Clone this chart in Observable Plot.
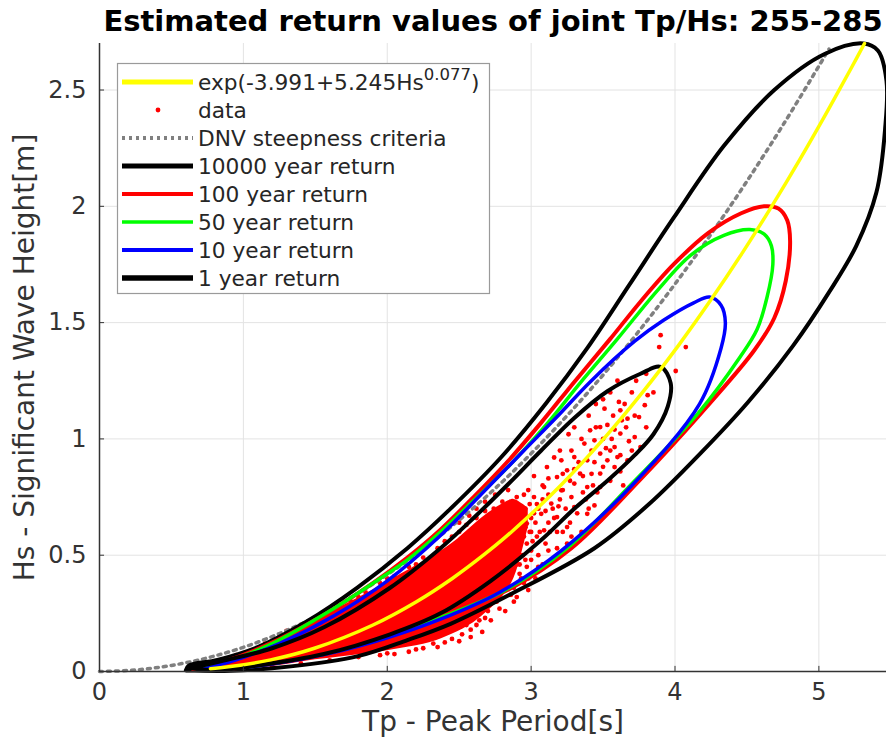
<!DOCTYPE html>
<html>
<head>
<meta charset="utf-8">
<script src="https://cdn.jsdelivr.net/npm/d3@7"></script>
<script src="https://cdn.jsdelivr.net/npm/@observablehq/plot@0.6"></script>
<style>
  html, body { margin: 0; padding: 0; background: white; }
  #wrap { position: relative; width: 886px; height: 748px; overflow: hidden; font-family: "DejaVu Sans", sans-serif; }
  #overlay { position: absolute; left: 0; top: 0; pointer-events: none; }
</style>
</head>
<body>
<div id="wrap"></div>
<script>
// ---------- data ----------
const titleText = "Estimated return values of joint Tp/Hs: 255-285";
const xLabel = "Tp - Peak Period[s]";
const yLabel = "Hs - Significant Wave Height[m]";
const xTicks = [0, 1, 2, 3, 4, 5];
const yTicks = [0, 0.5, 1, 1.5, 2, 2.5];

// fitted curve Tp = exp(-3.991+5.245 Hs^0.077)
const fitHs = [0.012, 0.02, 0.05, 0.1, 0.2, 0.3, 0.4, 0.5, 0.6, 0.8, 1.0, 1.2, 1.4, 1.6, 1.8, 2.0, 2.2, 2.4, 2.6, 2.7];
const fitTp = [0.771, 0.896, 1.189, 1.494, 1.901, 2.203, 2.452, 2.668, 2.863, 3.205, 3.504, 3.774, 4.022, 4.252, 4.468, 4.672, 4.866, 5.051, 5.230, 5.317];

// DNV steepness criteria
const dnvTp = [0, 0.25, 0.5, 0.75, 1, 1.25, 1.5, 1.75, 2, 2.25, 2.5, 2.75, 3, 3.25, 3.5, 3.75, 4, 4.25, 4.5, 4.75, 5, 5.07];
const dnvHs = [0, 0.0065, 0.026, 0.0586, 0.104, 0.163, 0.234, 0.319, 0.416, 0.527, 0.651, 0.787, 0.937, 1.100, 1.275, 1.464, 1.666, 1.880, 2.108, 2.349, 2.603, 2.676];

// return-period contours
const c10000Tp = [0.60, 0.62, 0.82, 1.10, 1.44, 1.79, 2.14, 2.44, 2.79, 3.10, 3.39, 3.68, 3.99, 4.34, 4.69, 5.04, 5.31, 5.41, 5.47, 5.46, 5.40, 5.26, 5.07, 4.82, 4.51, 4.18, 3.82, 3.44, 2.85, 2.44, 2.14, 1.79, 1.33, 0.91, 0.60];
const c10000Hs = [0.005, 0.025, 0.05, 0.105, 0.215, 0.36, 0.53, 0.70, 0.92, 1.15, 1.39, 1.66, 1.95, 2.26, 2.50, 2.655, 2.70, 2.67, 2.54, 2.33, 2.06, 1.83, 1.63, 1.40, 1.16, 0.94, 0.72, 0.53, 0.33, 0.205, 0.135, 0.065, 0.022, 0.003, 0.005];

const c100Tp = [0.65, 0.85, 1.15, 1.55, 1.90, 2.14, 2.37, 2.60, 2.84, 3.07, 3.30, 3.55, 3.76, 3.99, 4.23, 4.46, 4.62, 4.72, 4.78, 4.80, 4.77, 4.69, 4.55, 4.18, 3.75, 3.28, 2.85, 2.37, 2.00, 1.60, 1.20, 0.90, 0.65];
const c100Hs = [0.01, 0.04, 0.11, 0.24, 0.38, 0.49, 0.61, 0.75, 0.905, 1.07, 1.245, 1.43, 1.59, 1.75, 1.885, 1.97, 2.0, 1.99, 1.94, 1.85, 1.68, 1.52, 1.38, 1.11, 0.82, 0.53, 0.355, 0.235, 0.15, 0.08, 0.035, 0.012, 0.01];

const c50Tp = [0.68, 0.90, 1.20, 1.60, 1.95, 2.14, 2.37, 2.60, 2.84, 3.11, 3.34, 3.60, 3.88, 4.11, 4.34, 4.52, 4.62, 4.67, 4.68, 4.64, 4.57, 4.45, 4.16, 3.72, 3.25, 2.82, 2.37, 2.00, 1.60, 1.20, 0.90, 0.68];
const c50Hs = [0.01, 0.045, 0.12, 0.26, 0.40, 0.48, 0.60, 0.735, 0.88, 1.065, 1.24, 1.43, 1.64, 1.79, 1.875, 1.90, 1.88, 1.83, 1.75, 1.61, 1.47, 1.35, 1.11, 0.82, 0.53, 0.35, 0.232, 0.15, 0.08, 0.034, 0.012, 0.01];

const c10Tp = [0.72, 0.95, 1.25, 1.63, 2.00, 2.37, 2.65, 2.95, 3.18, 3.41, 3.72, 3.92, 4.13, 4.24, 4.32, 4.35, 4.32, 4.17, 3.70, 3.21, 2.78, 2.37, 2.00, 1.60, 1.20, 0.90, 0.72];
const c10Hs = [0.01, 0.05, 0.12, 0.24, 0.39, 0.585, 0.76, 0.95, 1.095, 1.245, 1.42, 1.51, 1.585, 1.61, 1.575, 1.50, 1.39, 1.15, 0.80, 0.52, 0.34, 0.225, 0.145, 0.078, 0.032, 0.012, 0.01];

const c1Tp = [0.63, 0.85, 1.20, 1.56, 2.02, 2.37, 2.60, 2.84, 3.07, 3.30, 3.53, 3.76, 3.90, 3.97, 3.95, 3.85, 3.72, 3.53, 3.30, 3.07, 2.72, 2.37, 2.02, 1.56, 1.10, 0.80, 0.63];
const c1Hs = [0.015, 0.045, 0.10, 0.19, 0.36, 0.53, 0.66, 0.805, 0.95, 1.09, 1.205, 1.28, 1.31, 1.24, 1.14, 1.02, 0.93, 0.82, 0.70, 0.565, 0.39, 0.25, 0.16, 0.075, 0.026, 0.006, 0.015];

// dense core of the data cloud
const coreTp = [0.70, 0.90, 1.10, 1.30, 1.50, 1.70, 1.90, 2.10, 2.30, 2.45, 2.60, 2.70, 2.80, 2.88, 2.94, 2.98];
const coreLo = [0.0, 0.005, 0.015, 0.03, 0.05, 0.065, 0.08, 0.10, 0.125, 0.16, 0.21, 0.26, 0.32, 0.40, 0.52, 0.62];
const coreHi = [0.025, 0.06, 0.105, 0.16, 0.22, 0.285, 0.35, 0.42, 0.49, 0.55, 0.63, 0.68, 0.72, 0.74, 0.72, 0.70];

// individual data points [Tp, Hs]
const dataPoints = [
  [3.90,1.446],[3.89,1.395],[4.075,1.395],[4.005,1.292],[3.81,1.188],[3.61,1.159],[3.51,1.13],[3.62,1.123],
  [3.72,1.10],[3.79,1.145],[3.75,1.094],[3.67,1.087],[3.62,1.023],[3.72,1.008],[3.76,0.965],[3.58,0.965],
  [3.48,1.051],[3.41,1.037],[3.44,0.994],[3.37,0.98],[3.48,0.937],[3.53,0.908],[3.60,0.922],[3.67,0.908],
  [3.39,0.908],[3.30,0.922],[3.21,0.908],[3.11,0.879],[3.25,0.865],[3.34,0.851],[3.48,0.851],[3.58,0.879],
  [3.18,0.836],[3.30,0.808],[3.39,0.793],[3.48,0.793],[3.09,0.793],[3.21,0.779],[3.28,0.75],[3.02,0.75],
  [3.14,0.722],[3.30,0.707],[3.44,0.714],[2.93,0.707],[3.07,0.678],[3.18,0.664],[2.97,0.636],[3.09,0.607],
  [3.25,0.621],[3.39,0.678],[3.64,0.80],
  [2.55,0.63],[2.62,0.66],[2.68,0.69],[2.74,0.70],[2.80,0.73],[2.86,0.69],[2.90,0.75],[2.84,0.64],
  [2.92,0.62],[2.88,0.56],[2.95,0.58],[3.00,0.66],[3.04,0.72],[2.98,0.78],[3.02,0.84],[3.08,0.80],
  [3.12,0.76],[3.06,0.60],[3.12,0.64],[2.94,0.50],[2.90,0.46],[2.85,0.40],[2.80,0.35],[2.76,0.30],
  [2.70,0.26],[2.64,0.22],[2.58,0.18],[2.52,0.16],[2.58,0.148],[2.45,0.14],[2.40,0.125],[2.62,0.20],
  [2.66,0.17],[2.50,0.13],[2.35,0.105],[2.25,0.10],[2.15,0.085],[2.05,0.075],[1.95,0.07],[2.72,0.22],
  [2.85,0.50],[3.00,0.52],[2.97,0.45],[3.15,0.70],[3.20,0.74],[3.22,0.85],[3.16,0.92],[3.28,0.95],
  [3.35,1.00],[3.30,1.05],[3.40,1.10],[3.45,1.15],[3.55,1.20],[3.60,1.25],[3.70,1.20],[3.66,1.05],
  [3.56,1.00],[3.50,0.88],[3.42,0.85],[3.38,0.74],[3.46,0.77],[3.55,0.82],[3.62,0.86],[3.70,0.95],
  [3.80,1.05],[3.85,1.20],[3.80,1.28],[3.35,0.60],[3.25,0.55],[3.18,0.60],[2.50,0.60],[2.45,0.58],
  [2.40,0.56],[2.35,0.53],[2.25,0.49],[2.15,0.45],[2.05,0.41],[1.95,0.38],[1.85,0.34],[1.75,0.30],
  [1.65,0.26],[1.55,0.24],[1.45,0.21],[1.35,0.18],[1.25,0.15],[1.15,0.12],[2.78,0.58],[2.74,0.52],
  [2.70,0.46],[2.66,0.40],[2.88,0.30],[2.82,0.26],[2.95,0.38],[3.05,0.45],
  [2.72,0.38],[2.76,0.44],[2.80,0.40],[2.83,0.46],[2.87,0.52],[2.90,0.58],[2.93,0.66],[2.96,0.70],
  [2.99,0.60],[3.01,0.56],[3.03,0.64],[3.05,0.70],[3.08,0.74],[3.10,0.69],[3.13,0.60],[3.16,0.66],
  [3.19,0.71],[3.22,0.78],[3.24,0.70],[3.27,0.82],[3.30,0.87],[3.33,0.90],[3.36,0.84],[3.10,0.55],
  [3.05,0.50],[2.92,0.42],[2.88,0.36],[2.98,0.40],[3.12,0.83],[3.20,0.95],[3.26,1.02],[3.45,1.05],
  [3.50,1.00],[3.55,0.95],[3.42,0.95],[3.62,0.93],[3.68,0.99],[3.50,1.17],[3.57,1.10],[3.65,1.15],
  [3.73,1.25],[1.30,0.175],[1.40,0.20],[1.60,0.26],[1.80,0.32],[2.00,0.40],[2.20,0.46],[2.35,0.50],
  [1.20,0.02],[1.40,0.035],[1.60,0.048],[1.80,0.062],[2.00,0.078],[2.20,0.095],[2.32,0.12],[2.55,0.20],
  [2.68,0.23],[2.78,0.27],[2.86,0.33],[1.05,0.09],[0.95,0.07],
  [2.96,0.62],[3.00,0.48],[2.93,0.40],[2.98,0.35],[3.03,0.40],[2.90,0.32],[3.08,0.46],[3.12,0.52],
  [3.15,0.48],[3.18,0.53],[3.22,0.60],[3.27,0.64],[3.32,0.68],[3.28,0.58],[3.40,0.70],[3.36,0.77],
  [3.43,0.80],[3.44,0.90],[3.52,0.96],[3.58,1.04],[3.63,1.08],[3.53,1.06],[2.62,0.70],[2.68,0.73],
  [2.75,0.76],[2.84,0.78],[2.57,0.67],[2.50,0.64],
  [2.97,0.55],[3.00,0.60],[3.02,0.68],[2.99,0.72],[2.95,0.76],[3.04,0.58],[2.96,0.48],[2.92,0.46],[2.90,0.52]
];

// legend entries
const legendLabels = ["data", "DNV steepness criteria", "10000 year return", "100 year return", "50 year return", "10 year return", "1 year return"];

// ---------- build tables ----------
const toRows = (tp, hs) => tp.map((t, i) => ({tp: t, hs: hs[i]}));
const fitRows = toRows(fitTp, fitHs);
const dnvRows = toRows(dnvTp, dnvHs);
const coreRows = coreTp.map((t, i) => ({tp: t, lo: coreLo[i], hi: coreHi[i]}));
const pointRows = dataPoints.map(([tp, hs]) => ({tp, hs}));
const contours = [
  {rows: toRows(c10000Tp, c10000Hs), stroke: "#000000", w: 4},
  {rows: toRows(c100Tp, c100Hs), stroke: "#ff0000", w: 4},
  {rows: toRows(c50Tp, c50Hs), stroke: "#00ff00", w: 3.5},
  {rows: toRows(c10Tp, c10Hs), stroke: "#0000ff", w: 3.5},
  {rows: toRows(c1Tp, c1Hs), stroke: "#000000", w: 4}
];

const axisColor = "#333333";
const chart = Plot.plot({
  width: 886,
  height: 748,
  marginLeft: 99,
  marginRight: 0,
  marginTop: 43,
  marginBottom: 77,
  style: {fontFamily: "DejaVu Sans", background: "white", overflow: "visible"},
  x: {domain: [0, 5.47]},
  y: {domain: [0, 2.7]},
  marks: [
    Plot.gridX(xTicks, {stroke: "#e3e3e3", strokeOpacity: 1, strokeWidth: 1}),
    Plot.gridY(yTicks, {stroke: "#e3e3e3", strokeOpacity: 1, strokeWidth: 1}),
    Plot.areaY(coreRows, {x: "tp", y1: "lo", y2: "hi", fill: "#ff0000", curve: "catmull-rom"}),
    Plot.dot(pointRows, {x: "tp", y: "hs", r: 2.4, fill: "#ff0000", stroke: null}),
    Plot.line(dnvRows, {x: "tp", y: "hs", stroke: "#808080", strokeWidth: 3.5, strokeDasharray: "3 5", curve: "catmull-rom"}),
    ...contours.map(c => Plot.line(c.rows, {x: "tp", y: "hs", stroke: c.stroke, strokeWidth: c.w, curve: "catmull-rom", strokeLinejoin: "round"})),
    Plot.line(fitRows, {x: "tp", y: "hs", stroke: "#ffff00", strokeWidth: 3.5, curve: "catmull-rom"}),
    Plot.ruleX([0], {stroke: axisColor, strokeWidth: 1.5}),
    Plot.ruleY([0], {stroke: axisColor, strokeWidth: 1.5}),
    Plot.ruleX(xTicks, {x: d => d, y1: 0, y2: 0.022, stroke: axisColor}),
    Plot.ruleY(yTicks, {y: d => d, x1: 0, x2: 0.035, stroke: axisColor}),
    Plot.axisX(xTicks, {tickSize: 0, tickPadding: 11, fontSize: 24, fill: axisColor, tickFormat: d => String(d), label: null}),
    Plot.axisY(yTicks, {tickSize: 0, tickPadding: 13, fontSize: 24, fill: axisColor, tickFormat: d => String(d), label: null}),
    Plot.text([xLabel], {text: d => d, frameAnchor: "bottom", dy: 59, fontSize: 28, fill: axisColor, textAnchor: "middle"}),
    Plot.text([yLabel], {text: d => d, frameAnchor: "left", dx: -74, rotate: -90, fontSize: 28, fill: axisColor, textAnchor: "middle"})
  ]
});
const wrap = document.getElementById("wrap");
wrap.appendChild(chart);

// ---------- overlay: title and legend ----------
const ns = "http://www.w3.org/2000/svg";
const ov = document.createElementNS(ns, "svg");
ov.setAttribute("id", "overlay");
ov.setAttribute("width", 886);
ov.setAttribute("height", 748);
wrap.appendChild(ov);
function el(tag, attrs, parent) {
  const e = document.createElementNS(ns, tag);
  for (const k in attrs) e.setAttribute(k, attrs[k]);
  (parent || ov).appendChild(e);
  return e;
}
const t = el("text", {x: 493, y: 31, "text-anchor": "middle", "font-family": "DejaVu Sans", "font-weight": "bold", "font-size": 29, fill: "#000"});
t.textContent = titleText;

// legend box
const lg = el("g", {transform: "translate(117,63)"});
el("rect", {x: 0.5, y: 0.5, width: 372, height: 230, fill: "white", stroke: "#9a9a9a", "stroke-width": 1.2}, lg);
const rowY = i => 19 + i * 28;
const x0 = 5, x1 = 76, tx = 81;
const fs = 21.7;
const txtAttrs = {"font-family": "DejaVu Sans", "font-size": fs, fill: "#262626", "dominant-baseline": "central"};
// entry 0: fit
el("line", {x1: x0, x2: x1, y1: rowY(0), y2: rowY(0), stroke: "#ffff00", "stroke-width": 5}, lg);
const t0 = el("text", {x: tx, y: rowY(0) + 7.5, "font-family": "DejaVu Sans", "font-size": fs, fill: "#262626"}, lg);
t0.appendChild(document.createTextNode("exp(-3.991+5.245Hs"));
const sup = document.createElementNS(ns, "tspan");
sup.setAttribute("dy", -10); sup.setAttribute("font-size", 16.5); sup.textContent = "0.077";
t0.appendChild(sup);
const cl = document.createElementNS(ns, "tspan");
cl.setAttribute("dy", 10); cl.textContent = ")";
t0.appendChild(cl);
// entry 1: data
el("circle", {cx: 41, cy: rowY(1), r: 2.4, fill: "#ff0000"}, lg);
// entry 2: DNV
el("line", {x1: x0, x2: x1, y1: rowY(2), y2: rowY(2), stroke: "#808080", "stroke-width": 4, "stroke-dasharray": "3 4"}, lg);
// contours
const legStyles = [["#000", 5], ["#ff0000", 4], ["#00ff00", 3.5], ["#0000ff", 4], ["#000", 5.5]];
legStyles.forEach(([c, w], i) => el("line", {x1: x0, x2: x1, y1: rowY(i + 3), y2: rowY(i + 3), stroke: c, "stroke-width": w}, lg));
legendLabels.forEach((lab, i) => {
  const tt = el("text", Object.assign({x: tx, y: rowY(i + 1)}, txtAttrs), lg);
  tt.textContent = lab;
});
</script>
</body>
</html>
